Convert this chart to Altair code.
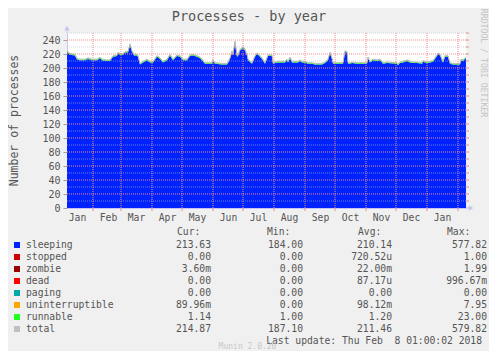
import altair as alt
import pandas as pd

# ---- data (day offset from 2017-01-06, sleeping processes) ----
day_offsets = [0, 3, 8, 10, 13, 18, 21, 25, 30, 33, 35, 40, 43, 46, 50, 51, 53, 56, 58, 61,
               63, 65, 67, 70, 71, 73, 76, 80, 83, 86, 90, 93, 96, 100, 103, 106, 110, 113, 116, 120,
               123, 126, 130, 133, 135, 138, 145, 146, 148, 155, 160, 161, 163, 165, 166, 168, 170, 171, 173, 175,
               176, 178, 180, 181, 185, 188, 190, 191, 195, 198, 201, 205, 206, 208, 211, 218, 220, 221, 223, 225,
               231, 233, 235, 238, 241, 245, 248, 255, 258, 261, 263, 265, 266, 276, 278, 280, 281, 283, 285, 290,
               300, 301, 303, 306, 310, 313, 315, 316, 320, 330, 331, 333, 336, 340, 343, 346, 350, 355, 356, 360,
               363, 366, 370, 371, 373, 376, 378, 381, 383, 386, 393, 394, 396, 398, 399]
sleeping = [223, 219, 218, 212, 211, 211, 213, 211, 211, 214, 211, 210, 210, 216, 217, 221, 219, 219, 222, 222,
            233, 223, 218, 218, 216, 205, 208, 211, 208, 208, 216, 213, 208, 211, 218, 211, 217, 216, 211, 211,
            217, 218, 216, 214, 211, 206, 206, 210, 206, 205, 205, 207, 213, 223, 218, 237, 216, 217, 225, 227,
            229, 225, 218, 211, 206, 216, 220, 219, 213, 206, 217, 217, 206, 207, 208, 208, 211, 208, 214, 208,
            208, 210, 208, 208, 206, 206, 205, 205, 207, 211, 221, 213, 206, 206, 223, 222, 206, 206, 207, 206,
            206, 214, 208, 211, 210, 211, 208, 206, 207, 206, 204, 207, 208, 210, 208, 207, 207, 206, 209, 207,
            208, 209, 217, 220, 218, 208, 216, 216, 206, 205, 205, 211, 210, 213, 213]
runnable_avg = 1.20

months = ["2017-02-01", "2017-03-01", "2017-04-01", "2017-05-01", "2017-06-01", "2017-07-01",
          "2017-08-01", "2017-09-01", "2017-10-01", "2017-11-01", "2017-12-01", "2018-01-01", "2018-02-01"]
label_months = [(2017, m) for m in range(1, 13)] + [(2018, 1)]
major_y = [20, 40, 60, 80, 100, 120, 140, 160, 180, 200, 220, 240]
minor_y = [10, 30, 50, 70, 90, 110, 130, 150, 170, 190, 210, 230, 250]

names = ["sleeping", "stopped", "zombie", "dead", "paging", "uninterruptible", "runnable", "total"]
colors = ["#0022FF", "#CC0000", "#990000", "#FF0000", "#00AAAA", "#FFA500", "#22FF22", "#C0C0C0"]
cur = ["213.63", "0.00", "3.60m", "0.00", "0.00", "89.96m", "1.14", "214.87"]
mins = ["184.00", "0.00", "0.00", "0.00", "0.00", "0.00", "1.00", "187.10"]
avgs = ["210.14", "720.52u", "22.00m", "87.17u", "0.00", "98.12m", "1.20", "211.46"]
maxs = ["577.82", "1.00", "1.99", "996.67m", "0.00", "7.95", "23.00", "579.82"]

MONO = "DejaVu Sans Mono"
TXT = "#555555"
GRID_MAJ = "#F08A8A"
GRID_MIN = "#BDBDBD"
ARROW = "#C4C4F4"

dates = (pd.Timestamp("2017-01-06") + pd.to_timedelta(day_offsets, unit="D")).strftime("%Y-%m-%dT%H:%M:%S")
df = pd.DataFrame({"date": dates, "sleeping": sleeping})
df["top"] = df["sleeping"] + runnable_avg
df["total"] = df["top"] + 0.4

ms_df = pd.DataFrame({"date": [m + "T00:00:00" for m in months]})
maj_df = pd.DataFrame({"v": major_y})
min_df = pd.DataFrame({"v": minor_y})
all_df = pd.DataFrame({"v": sorted(major_y + minor_y)})
one = pd.DataFrame({"a": [0]})


def sfx(s):
    return s if s[-1].isalpha() else s + "\u00a0"


leg = pd.DataFrame({
    "name": names, "color": colors,
    "cur": [sfx(s) for s in cur], "min": [sfx(s) for s in mins],
    "avg": [sfx(s) for s in avgs], "max": [sfx(s) for s in maxs],
})
leg["ypx"] = [212 + 12 * i for i in range(len(names))]

x_scale = alt.Scale(domain=[alt.DateTime(year=2017, month=1, date=6),
                            alt.DateTime(year=2018, month=2, date=9)])
y_scale = alt.Scale(domain=[0, 250], nice=False)

x_axis = alt.Axis(values=[alt.DateTime(year=y, month=m, date=16) for y, m in label_months],
                  format="%b", ticks=False, grid=False, domain=True, domainColor=ARROW,
                  labelOverlap=False, labelFont=MONO, labelFontSize=9.7, labelColor=TXT,
                  labelPadding=4)
y_axis = alt.Axis(values=[0] + major_y, grid=False, domainColor=ARROW, tickColor="#A0A0A0",
                  tickSize=4, labelOverlap=False, labelFont=MONO, labelFontSize=10,
                  labelColor=TXT, labelPadding=3)
x_enc = alt.X("date:T", scale=x_scale, title=None, axis=x_axis)
y_enc = alt.Y("sleeping:Q", scale=y_scale, title=None, axis=y_axis)

base = alt.Chart(df)
blue = base.mark_area(color="#0022FF").encode(x=x_enc, y=y_enc)
green = base.mark_area(color="#22FF22").encode(x=x_enc, y=alt.Y("sleeping:Q", scale=y_scale, title=None, axis=y_axis),
                                               y2="top:Q")
total = base.mark_line(color="#B8B8B8", strokeWidth=1).encode(
    x=x_enc, y=alt.Y("total:Q", scale=y_scale, title=None, axis=y_axis))

vgrid = alt.Chart(ms_df).mark_rule(color=GRID_MAJ, strokeDash=[1, 1], strokeWidth=1).encode(x=x_enc)
hmaj = alt.Chart(maj_df).mark_rule(color=GRID_MAJ, strokeDash=[1, 1], strokeWidth=1).encode(
    y=alt.Y("v:Q", scale=y_scale, title=None, axis=y_axis))
hmin = alt.Chart(min_df).mark_rule(color=GRID_MIN, strokeDash=[1, 1], strokeWidth=1, opacity=0.6).encode(
    y=alt.Y("v:Q", scale=y_scale, title=None, axis=y_axis))
bticks = alt.Chart(ms_df).mark_rule(color=GRID_MAJ, strokeWidth=1).encode(
    x=x_enc, y=alt.value(175), y2=alt.value(178))
rticks = alt.Chart(all_df).mark_rule(color=GRID_MAJ, strokeWidth=1).encode(
    y=alt.Y("v:Q", scale=y_scale, title=None, axis=y_axis), x=alt.value(399), x2=alt.value(402))

yext = alt.Chart(one).mark_rule(color=ARROW).encode(x=alt.value(0), y=alt.value(-4), y2=alt.value(0))
xext = alt.Chart(one).mark_rule(color=ARROW).encode(x=alt.value(399), x2=alt.value(404), y=alt.value(175))
uparrow = alt.Chart(one).mark_point(shape="triangle-up", filled=True, size=28, color=ARROW, opacity=1).encode(
    x=alt.value(0), y=alt.value(-5))
rarrow = alt.Chart(one).mark_point(shape="triangle-right", filled=True, size=28, color=ARROW, opacity=1).encode(
    x=alt.value(404), y=alt.value(175))

title = alt.Chart(one).mark_text(text="Processes - by year", font=MONO, fontSize=13.5, color=TXT,
                                 align="center", baseline="middle").encode(x=alt.value(182), y=alt.value(-16))
ytitle = alt.Chart(one).mark_text(text="Number of processes", font=MONO, fontSize=11.5, color=TXT, angle=270,
                                  align="center", baseline="middle").encode(x=alt.value(-52), y=alt.value(87.5))
rrd = alt.Chart(one).mark_text(text="RRDTOOL / TOBI OETIKER", font=MONO, fontSize=8.2, color="#C4C4C4", angle=90,
                               align="center", baseline="middle").encode(x=alt.value(416), y=alt.value(30))

ly = alt.Y("ypx:Q", scale=None)
lbase = alt.Chart(leg)
squares = lbase.mark_square(size=36, opacity=1).encode(
    x=alt.value(-50), y=ly, color=alt.Color("color:N", scale=None))
lnames = lbase.mark_text(font=MONO, fontSize=9.7, color=TXT, align="left", baseline="middle").encode(
    x=alt.value(-41), y=ly, text="name:N")
cols = []
for field, xr in [("cur", 144), ("min", 236), ("avg", 325), ("max", 420)]:
    cols.append(lbase.mark_text(font=MONO, fontSize=9.7, color=TXT, align="right", baseline="middle").encode(
        x=alt.value(xr), y=ly, text=f"{field}:N"))
headers = []
for h, xl in [("Cur:", 110), ("Min:", 200), ("Avg:", 291), ("Max:", 380)]:
    headers.append(alt.Chart(one).mark_text(text=h, font=MONO, fontSize=9.7, color=TXT, align="left",
                                            baseline="middle").encode(x=alt.value(xl), y=alt.value(199)))
lastupd = alt.Chart(one).mark_text(text="Last update: Thu Feb\u00a0\u00a08 01:00:02 2018", font=MONO,
                                   fontSize=9.7, color=TXT, align="right", baseline="middle").encode(
    x=alt.value(415), y=alt.value(308))
munin = alt.Chart(one).mark_text(text="Munin 2.0.20", font=MONO, fontSize=8, color="#C8C8C8",
                                 align="center", baseline="middle").encode(x=alt.value(180.5), y=alt.value(314))

chart = alt.layer(
    blue, green, total, hmin, hmaj, vgrid, bticks, rticks, yext, xext, uparrow, rarrow,
    title, ytitle, rrd, squares, lnames, *cols, *headers, lastupd, munin
).properties(
    width=399, height=175,
    autosize=alt.AutoSizeParams(type="none"),
    padding={"left": 59, "top": 25, "right": 23, "bottom": 143},
    background="#F0F0F0",
).configure_view(stroke=None, fill="#FFFFFF").configure_axis(labelOverlap=False)

chart.save("out.html", embed_options={"renderer": "svg", "actions": False})
